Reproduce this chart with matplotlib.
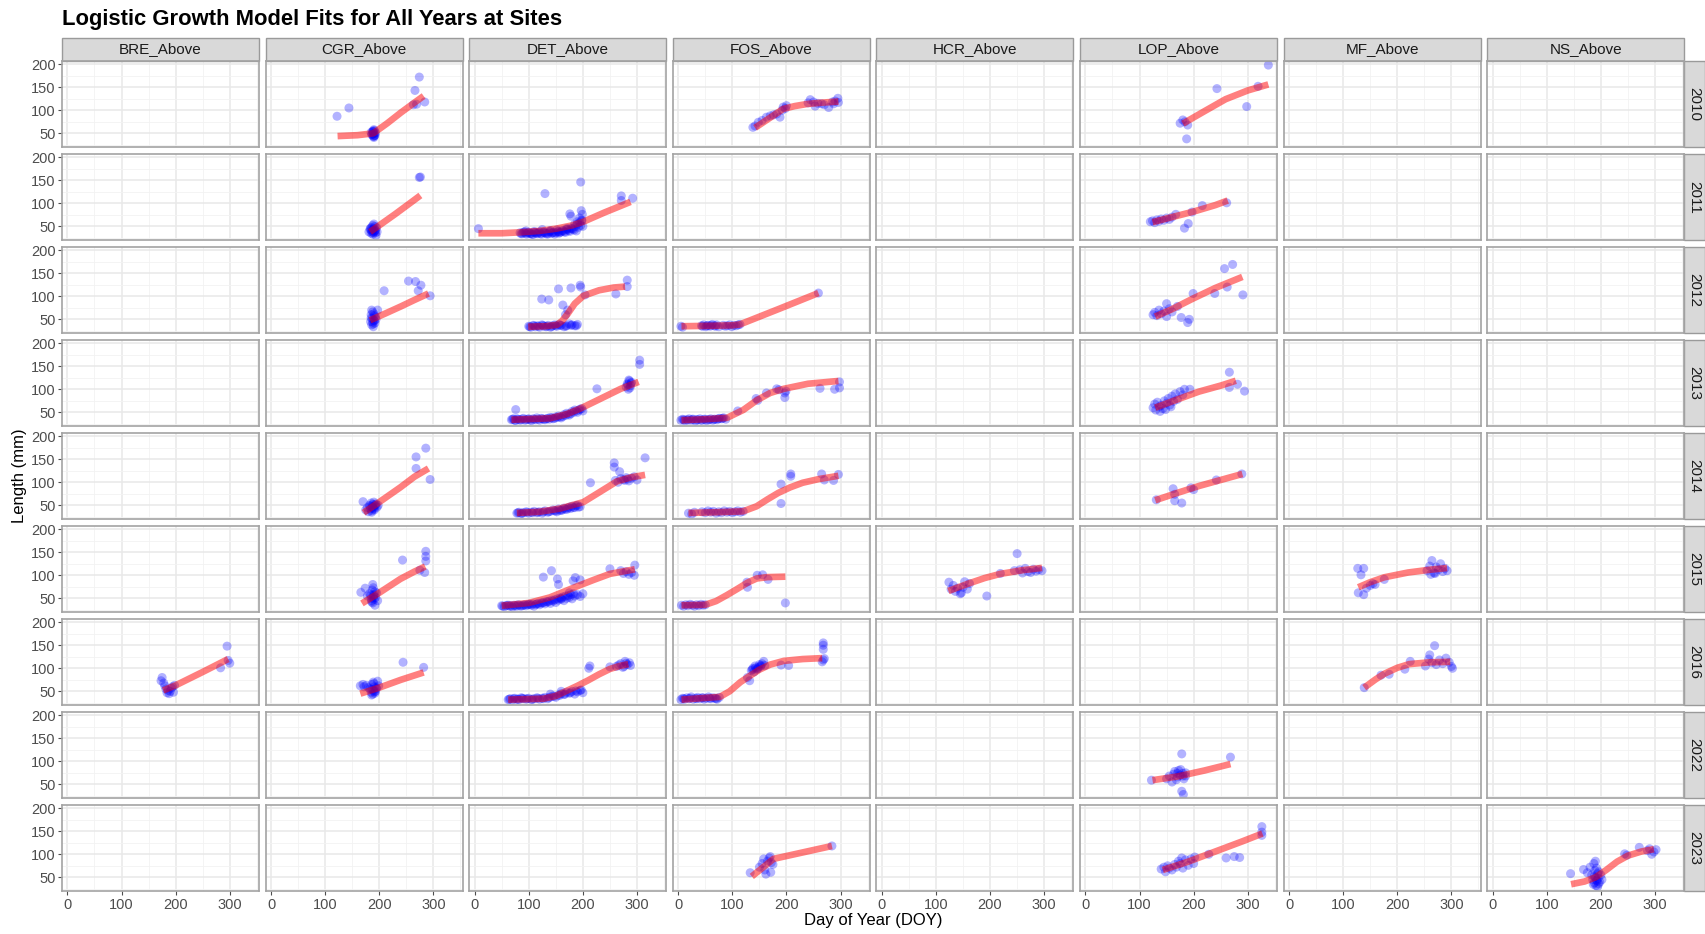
import matplotlib
matplotlib.use('Agg')
import matplotlib.pyplot as plt
from matplotlib.patches import Rectangle

plt.rcParams['font.family'] = ['Liberation Sans', 'DejaVu Sans']

sites = ['BRE_Above', 'CGR_Above', 'DET_Above', 'FOS_Above',
         'HCR_Above', 'LOP_Above', 'MF_Above', 'NS_Above']
years = [2010, 2011, 2012, 2013, 2014, 2015, 2016, 2022, 2023]
x_ticks = [0, 100, 200, 300]
y_ticks = [50, 100, 150, 200]

# --- observed lengths (DOY, mm) and fitted logistic curves ---
bre16_doy = [173, 175, 178, 180, 182, 184, 186, 188, 190, 192, 194, 196, 198, 283, 295, 297, 300]
bre16_len = [73, 80, 68, 62, 55, 47, 52, 45, 50, 57, 60, 48, 63, 101, 148, 117, 111]
bre16_fit_doy = [177, 200, 250, 297]
bre16_fit_len = [52, 63, 92, 120]

cgr10_doy = [122, 144, 185, 187, 188, 189, 190, 191, 192, 190, 188, 191, 189, 193, 186, 190, 189, 191,
             263, 266, 269, 274, 284]
cgr10_len = [87, 105, 52, 48, 55, 44, 58, 50, 46, 41, 53, 56, 49, 51, 47, 43, 54, 45,
             112, 143, 113, 172, 118]
cgr10_fit_doy = [123, 160, 189, 215, 240, 262, 282]
cgr10_fit_len = [44, 46, 50, 72, 95, 114, 131]

cgr11_doy = [181, 183, 185, 186, 187, 188, 189, 190, 191, 192, 193, 194, 195, 196, 188, 190, 185, 192,
             184, 187, 189, 193, 274, 276]
cgr11_len = [38, 44, 35, 48, 41, 52, 36, 45, 39, 50, 42, 30, 47, 38, 33, 55, 42, 40,
             46, 38, 43, 36, 156, 157]
cgr11_fit_doy = [183, 200, 230, 260, 276]
cgr11_fit_len = [38, 52, 77, 103, 117]

cgr12_doy = [184, 185, 186, 187, 188, 189, 190, 191, 192, 193, 186, 188, 190, 194, 197, 189, 185, 191,
             209, 254, 267, 272, 277, 294]
cgr12_len = [45, 60, 38, 52, 66, 34, 48, 58, 42, 55, 70, 44, 62, 50, 70, 40, 53, 47,
             112, 133, 132, 112, 124, 101]
cgr12_fit_doy = [183, 210, 240, 265, 291]
cgr12_fit_len = [48, 62, 78, 92, 106]

cgr14_doy = [170, 175, 178, 180, 182, 184, 185, 186, 187, 188, 189, 190, 191, 192, 194, 196, 198, 186, 190,
             183, 188, 193, 268, 268, 286, 294]
cgr14_len = [58, 40, 45, 36, 50, 42, 55, 38, 47, 52, 44, 57, 40, 49, 53, 46, 50, 35, 42,
             48, 46, 51, 155, 130, 174, 106]
cgr14_fit_doy = [171, 200, 239, 265, 291]
cgr14_fit_len = [34, 57, 89, 112, 130]

cgr15_doy = [166, 174, 178, 182, 185, 186, 187, 188, 189, 190, 191, 192, 193, 195, 197, 188, 190, 186,
             184, 189, 192, 243, 275, 284, 286, 286, 286]
cgr15_len = [63, 72, 55, 60, 50, 45, 68, 40, 73, 58, 48, 35, 52, 62, 45, 80, 55, 42,
             57, 51, 64, 133, 111, 106, 152, 141, 131]
cgr15_fit_doy = [168, 200, 239, 265, 285]
cgr15_fit_len = [39, 62, 92, 108, 119]

cgr16_doy = [165, 170, 172, 176, 180, 183, 185, 186, 188, 189, 190, 191, 192, 193, 195, 197, 199, 186, 190,
             187, 191, 194, 244, 282]
cgr16_len = [62, 65, 60, 63, 58, 55, 48, 65, 44, 70, 52, 60, 46, 50, 56, 72, 62, 42, 67,
             54, 49, 58, 113, 102]
cgr16_fit_doy = [165, 200, 240, 282]
cgr16_fit_len = [45, 58, 75, 91]

det11_doy = [7, 84, 88, 92, 96, 100, 104, 108, 112, 116, 120, 124, 128, 132, 136, 140, 144, 148, 152, 156,
             160, 164, 168, 172, 176, 180, 184, 188, 192, 196, 200, 95, 110, 125, 140, 155, 170, 185, 198,
             86, 90, 94, 98, 102, 106, 110, 114, 118, 122, 126, 130, 134, 138, 142, 146, 150, 154, 158,
             162, 166, 170, 174, 178, 182, 186, 190, 194, 198,
             130, 196, 176, 178, 197, 199, 190, 194, 271, 271, 292]
det11_len = [45, 36, 34, 38, 33, 37, 35, 32, 36, 34, 38, 33, 37, 35, 34, 39, 36, 33, 42, 35,
             38, 40, 37, 44, 39, 45, 42, 40, 48, 52, 50, 40, 39, 43, 41, 38, 45, 55, 62,
             34, 37, 35, 36, 34, 33, 37, 35, 36, 34, 37, 36, 33, 38, 35, 37, 36, 39, 37,
             41, 38, 43, 41, 46, 44, 50, 55, 58, 64,
             121, 146, 77, 72, 84, 76, 60, 68, 116, 106, 111]
det11_fit_doy = [7, 50, 84, 120, 151, 180, 201, 240, 288]
det11_fit_len = [35, 35, 37, 40, 45, 52, 60, 80, 103]

det12_doy = [100, 104, 108, 112, 116, 120, 124, 128, 132, 136, 140, 144, 148, 152, 156, 160, 165, 170, 175, 180,
             185, 190, 102, 110, 118, 126, 134, 142, 150, 158, 168, 178, 188,
             124, 137, 155, 163, 178, 195, 196, 204, 261, 282, 282, 168, 172]
det12_len = [35, 33, 37, 34, 36, 33, 38, 35, 34, 37, 33, 36, 38, 35, 39, 37, 34, 36, 40, 38,
             36, 39, 34, 36, 35, 37, 35, 34, 36, 37, 35, 37, 36,
             94, 92, 116, 81, 118, 124, 120, 103, 105, 135, 121, 60, 70]
det12_fit_doy = [99, 130, 152, 162, 172, 185, 201, 230, 257, 278]
det12_fit_len = [34, 35, 38, 47, 62, 84, 101, 113, 119, 121]

det13_doy = [68, 72, 76, 80, 85, 90, 95, 100, 105, 110, 115, 120, 125, 130, 135, 140, 145, 150, 155, 160,
             165, 170, 175, 180, 185, 190, 195, 200, 70, 74, 78, 83, 88, 93, 98, 103, 108, 113, 118, 123,
             128, 133, 138, 143, 148, 153, 158, 163, 168, 173, 178, 183, 188, 193, 198,
             76, 226, 280, 282, 284, 286, 288, 290, 285, 287, 283, 289, 305, 305]
det13_len = [34, 36, 32, 35, 33, 37, 34, 36, 32, 35, 38, 33, 36, 34, 37, 39, 36, 40, 42, 38,
             45, 48, 44, 52, 55, 50, 57, 53, 35, 33, 36, 34, 35, 33, 35, 34, 36, 34, 35, 37,
             35, 36, 35, 38, 37, 39, 40, 41, 43, 46, 47, 50, 53, 55, 58,
             56, 101, 105, 112, 100, 118, 108, 115, 120, 103, 110, 113, 163, 154]
det13_fit_doy = [68, 139, 170, 195, 230, 270, 303]
det13_fit_len = [34, 37, 46, 58, 78, 101, 116]

det14_doy = [78, 82, 86, 90, 95, 100, 105, 110, 115, 120, 125, 130, 135, 140, 145, 150, 155, 160, 165, 170,
             175, 180, 185, 190, 195, 80, 88, 97, 107, 117, 127, 137, 147, 152, 157, 162, 167, 172, 177,
             182, 187, 192, 214, 258, 258, 268, 260, 265, 270, 275, 280, 285, 290, 295, 300, 277, 283, 315]
det14_len = [33, 35, 32, 34, 36, 33, 35, 37, 34, 36, 33, 38, 35, 37, 40, 38, 42, 39, 44, 41,
             46, 48, 45, 50, 47, 34, 33, 35, 34, 35, 36, 36, 38, 36, 39, 40, 42, 44, 43,
             45, 49, 46, 99, 142, 133, 123, 104, 100, 108, 106, 110, 103, 109, 112, 105, 104, 107, 153]
det14_fit_doy = [78, 120, 158, 201, 230, 263, 290, 315]
det14_fit_len = [33.5, 36, 43, 57, 78, 102, 111, 116]

det15_doy = [50, 55, 60, 65, 70, 75, 80, 85, 90, 95, 100, 105, 110, 115, 120, 125, 130, 135, 140, 145,
             150, 155, 160, 165, 170, 175, 180, 185, 190, 195, 200, 52, 58, 63, 68, 73, 78, 83, 88, 93,
             98, 103, 108, 113, 118, 123, 128, 133, 138, 143, 148, 153, 158, 163, 168, 173, 178, 183,
             127, 142, 153, 155, 182, 186, 195, 250, 270, 275, 280, 285, 290, 295, 296, 160, 175]
det15_len = [34, 32, 35, 33, 31, 34, 36, 33, 35, 34, 37, 35, 33, 38, 36, 40, 38, 42, 39, 44,
             41, 46, 48, 45, 50, 52, 49, 55, 58, 54, 60, 33, 34, 35, 34, 35, 33, 35, 34, 36,
             36, 37, 38, 37, 39, 40, 41, 43, 44, 46, 47, 49, 51, 53, 55, 56, 58, 60,
             96, 110, 92, 80, 88, 95, 90, 114, 110, 104, 108, 102, 106, 100, 122, 50, 62]
det15_fit_doy = [50, 100, 139, 185, 220, 250, 296]
det15_fit_len = [34, 40, 52, 74, 90, 103, 113]

det16_doy = [62, 66, 70, 74, 78, 82, 86, 90, 95, 100, 105, 110, 115, 120, 125, 130, 135, 140, 145, 150,
             155, 160, 165, 170, 175, 180, 185, 190, 195, 200, 64, 72, 80, 88, 97, 107, 117, 127, 137,
             147, 157, 167, 177, 187, 197, 211, 213, 250, 262, 266, 270, 274, 278, 282, 286, 288,
             276, 280, 140, 160]
det16_len = [32, 34, 31, 35, 33, 32, 36, 34, 33, 35, 32, 34, 36, 33, 35, 37, 34, 38, 40, 37,
             42, 45, 43, 48, 46, 50, 44, 49, 52, 47, 33, 34, 33, 35, 34, 33, 35, 34, 36,
             39, 41, 44, 47, 51, 53, 100, 105, 103, 104, 107, 110, 102, 115, 108, 112, 106,
             104, 111, 44, 50]
det16_fit_doy = [62, 127, 150, 170, 190, 210, 230, 250, 268, 284]
det16_fit_len = [32, 34, 40, 51, 62, 74, 87, 98.5, 105, 109]

fos10_doy = [138, 142, 148, 155, 163, 170, 176, 182, 188, 192, 194, 198, 200, 240, 244, 250, 253, 258, 265,
             270, 278, 285, 287, 290, 295, 296]
fos10_len = [63, 66, 74, 78, 85, 88, 90, 92, 85, 100, 107, 104, 110, 116, 123, 118, 109, 115, 114,
             112, 106, 118, 114, 120, 126, 117]
fos10_fit_doy = [142, 170, 194, 215, 238, 265, 296]
fos10_fit_len = [62, 84, 103, 109, 113.6, 116.5, 119]

fos12_doy = [5, 8, 43, 47, 51, 55, 59, 63, 67, 71, 75, 83, 87, 91, 95, 99, 103, 107, 111, 114,
             45, 53, 61, 69, 259]
fos12_len = [35, 33, 36, 38, 34, 37, 35, 39, 36, 38, 34, 37, 35, 36, 38, 34, 37, 36, 38, 39,
             35, 36, 37, 35, 107]
fos12_fit_doy = [6, 60, 100, 114, 187, 259]
fos12_fit_len = [35, 36, 37, 39, 73, 107]

fos13_doy = [5, 8, 12, 16, 20, 24, 28, 32, 36, 40, 44, 48, 52, 56, 60, 64, 68, 72, 76, 80, 84, 88,
             10, 18, 26, 34, 42, 50, 58, 66, 74, 82,
             110, 144, 147, 163, 182, 186, 197, 197, 199, 262, 289, 298, 298]
fos13_len = [33, 35, 32, 34, 36, 33, 35, 31, 34, 36, 33, 35, 32, 34, 36, 33, 35, 34, 37, 36, 38, 35,
             34, 33, 35, 34, 33, 35, 34, 35, 36, 37,
             53, 80, 76, 92, 101, 99, 82, 92, 96, 102, 100, 116, 103]
fos13_fit_doy = [6, 50, 90, 120, 145, 170, 195, 240, 296]
fos13_fit_len = [33, 35, 38, 55, 76, 92, 101, 112, 118]

fos14_doy = [19, 25, 30, 44, 50, 55, 60, 65, 70, 75, 80, 85, 90, 95, 100, 105, 110, 115, 120,
             190, 190, 208, 208, 265, 270, 287, 296]
fos14_len = [33, 31, 35, 36, 34, 38, 35, 37, 33, 36, 34, 38, 35, 37, 34, 36, 38, 35, 37,
             96, 54, 118, 113, 118, 105, 104, 117]
fos14_fit_doy = [19, 70, 120, 145, 165, 185, 207, 230, 260, 296]
fos14_fit_len = [33.5, 35, 37, 48, 63, 77, 89, 99, 107, 114]

fos15_doy = [6, 10, 14, 18, 22, 26, 30, 34, 38, 42, 46, 50, 127, 128, 146, 156, 166, 198]
fos15_len = [35, 33, 36, 34, 37, 35, 33, 36, 34, 37, 35, 36, 85, 74, 100, 101, 91, 40]
fos15_fit_doy = [6, 50, 70, 90, 110, 128, 145, 165, 198]
fos15_fit_len = [35, 36, 44, 57, 71, 84, 93, 96, 97]

fos16_doy = [5, 8, 12, 16, 20, 24, 28, 32, 36, 40, 44, 48, 52, 56, 60, 64, 68, 72, 76,
             10, 22, 34, 46, 58, 70,
             128, 132, 135, 138, 140, 142, 145, 148, 150, 152, 155, 158, 160, 137, 143, 147, 153,
             190, 204, 266, 268, 268, 268, 268, 270]
fos16_len = [32, 35, 33, 36, 34, 38, 33, 35, 37, 34, 36, 33, 35, 38, 34, 36, 35, 33, 37,
             34, 35, 34, 36, 35, 34,
             80, 73, 95, 100, 92, 105, 98, 102, 108, 104, 110, 115, 106, 97, 101, 99, 106,
             107, 106, 114, 118, 141, 150, 155, 121]
fos16_fit_doy = [6, 77, 95, 115, 133, 150, 170, 195, 230, 266]
fos16_fit_len = [32, 38, 50, 70, 84, 97, 108, 116, 120, 122]

fos23_doy = [133, 150, 155, 158, 160, 162, 165, 168, 170, 171, 172, 175, 284]
fos23_len = [60, 72, 80, 90, 66, 57, 85, 92, 95, 61, 82, 78, 118]
fos23_fit_doy = [136, 155, 176, 230, 284]
fos23_fit_len = [52, 70, 90, 104, 118]

hcr15_doy = [124, 128, 132, 136, 140, 145, 147, 150, 153, 158, 162, 194, 219, 245, 250, 255, 260, 265,
             270, 275, 280, 285, 290, 296]
hcr15_len = [85, 70, 78, 65, 72, 60, 62, 74, 86, 70, 82, 55, 104, 110, 147, 112, 105, 115,
             108, 106, 113, 109, 112, 110]
hcr15_fit_doy = [123, 160, 190, 219, 260, 296]
hcr15_fit_len = [66, 82, 94, 103, 111, 116]

lop10_doy = [175, 180, 184, 187, 189, 243, 298, 319, 338]
lop10_len = [72, 79, 75, 38, 68, 147, 108, 152, 198]
lop10_fit_doy = [180, 220, 259, 300, 338]
lop10_fit_len = [71, 98, 124, 143, 156]

lop11_doy = [120, 124, 128, 132, 136, 140, 145, 150, 155, 160, 167, 183, 190, 197, 216, 261]
lop11_len = [60, 62, 58, 64, 61, 66, 63, 68, 65, 70, 76, 46, 56, 81, 95, 101]
lop11_fit_doy = [124, 160, 200, 240, 263]
lop11_fit_len = [59, 70, 82, 96, 106]

lop12_doy = [125, 128, 132, 136, 140, 145, 150, 155, 160, 150, 170, 177, 189, 192, 199, 239, 257, 262, 272, 291]
lop12_len = [60, 65, 58, 70, 62, 68, 84, 73, 66, 56, 78, 54, 43, 50, 106, 106, 160, 120, 169, 103]
lop12_fit_doy = [129, 160, 197, 240, 290]
lop12_fit_len = [56, 72, 94, 118, 142]

lop13_doy = [125, 128, 130, 133, 136, 140, 143, 146, 150, 153, 156, 160, 163, 166, 170, 175, 180, 183, 193,
             266, 266, 281, 294, 138, 148, 158]
lop13_len = [60, 68, 55, 72, 62, 65, 58, 75, 70, 80, 66, 85, 74, 90, 78, 95, 88, 100, 100,
             137, 104, 111, 96, 52, 56, 62]
lop13_fit_doy = [129, 170, 210, 250, 278]
lop13_fit_len = [60, 78, 95, 108, 118.5]

lop14_doy = [131, 162, 165, 165, 178, 195, 200, 242, 289]
lop14_len = [62, 86, 74, 60, 55, 88, 84, 105, 118]
lop14_fit_doy = [129, 170, 210, 250, 290]
lop14_fit_len = [61, 77, 92, 105, 118]

lop22_doy = [122, 150, 155, 160, 163, 165, 168, 170, 172, 175, 178, 180, 182, 185, 178, 181, 185, 268,
             170, 176, 180]
lop22_len = [59, 62, 68, 55, 72, 78, 60, 66, 80, 70, 116, 74, 62, 68, 35, 28, 75, 109,
             74, 82, 68]
lop22_fit_doy = [124, 170, 220, 268]
lop22_fit_len = [59, 67, 80, 94]

lop23_doy = [140, 145, 148, 152, 155, 160, 165, 168, 172, 175, 178, 180, 185, 190, 195, 200, 202,
             228, 260, 275, 285, 326, 326, 326]
lop23_len = [68, 72, 62, 75, 70, 66, 78, 72, 85, 80, 92, 70, 88, 76, 90, 80, 94,
             100, 92, 95, 93, 160, 141, 148]
lop23_fit_doy = [143, 190, 240, 290, 327]
lop23_fit_len = [66, 84, 106, 128, 145]

mf15_doy = [127, 138, 133, 128, 138, 143, 150, 155, 159, 176, 255, 260, 264, 268, 272, 276, 280, 284,
            288, 292, 262, 270]
mf15_len = [115, 115, 101, 62, 58, 72, 78, 82, 80, 91, 110, 120, 132, 105, 118, 112, 125, 108,
            115, 110, 102, 104]
mf15_fit_doy = [128, 150, 176, 220, 260, 292]
mf15_fit_len = [74, 85, 95.6, 106, 112, 115.7]

mf16_doy = [139, 170, 185, 214, 224, 252, 258, 260, 264, 269, 272, 278, 284, 290, 296, 300, 302]
mf16_len = [58, 85, 87, 98, 115, 105, 120, 129, 112, 149, 108, 118, 110, 122, 113, 104, 100]
mf16_fit_doy = [139, 160, 176, 200, 222, 260, 298]
mf16_fit_len = [58, 76, 88, 101, 109, 113, 114]

ns23_doy = [144, 168, 175, 180, 183, 185, 187, 188, 189, 190, 191, 192, 193, 194, 195, 196, 198, 200, 202,
            186, 190, 194, 188, 192, 196, 244, 248, 271, 286, 290, 294, 298, 302]
ns23_len = [58, 67, 60, 72, 55, 45, 80, 38, 65, 50, 32, 70, 42, 58, 48, 62, 40, 55, 45,
            35, 85, 30, 52, 44, 36, 101, 98, 115, 108, 112, 100, 105, 110]
ns23_fit_doy = [145, 170, 190, 210, 230, 250, 275, 298]
ns23_fit_len = [35, 41, 50, 66, 84, 97, 106, 111]

panels = {
    ('BRE_Above', 2016): (bre16_doy, bre16_len, bre16_fit_doy, bre16_fit_len),
    ('CGR_Above', 2010): (cgr10_doy, cgr10_len, cgr10_fit_doy, cgr10_fit_len),
    ('CGR_Above', 2011): (cgr11_doy, cgr11_len, cgr11_fit_doy, cgr11_fit_len),
    ('CGR_Above', 2012): (cgr12_doy, cgr12_len, cgr12_fit_doy, cgr12_fit_len),
    ('CGR_Above', 2014): (cgr14_doy, cgr14_len, cgr14_fit_doy, cgr14_fit_len),
    ('CGR_Above', 2015): (cgr15_doy, cgr15_len, cgr15_fit_doy, cgr15_fit_len),
    ('CGR_Above', 2016): (cgr16_doy, cgr16_len, cgr16_fit_doy, cgr16_fit_len),
    ('DET_Above', 2011): (det11_doy, det11_len, det11_fit_doy, det11_fit_len),
    ('DET_Above', 2012): (det12_doy, det12_len, det12_fit_doy, det12_fit_len),
    ('DET_Above', 2013): (det13_doy, det13_len, det13_fit_doy, det13_fit_len),
    ('DET_Above', 2014): (det14_doy, det14_len, det14_fit_doy, det14_fit_len),
    ('DET_Above', 2015): (det15_doy, det15_len, det15_fit_doy, det15_fit_len),
    ('DET_Above', 2016): (det16_doy, det16_len, det16_fit_doy, det16_fit_len),
    ('FOS_Above', 2010): (fos10_doy, fos10_len, fos10_fit_doy, fos10_fit_len),
    ('FOS_Above', 2012): (fos12_doy, fos12_len, fos12_fit_doy, fos12_fit_len),
    ('FOS_Above', 2013): (fos13_doy, fos13_len, fos13_fit_doy, fos13_fit_len),
    ('FOS_Above', 2014): (fos14_doy, fos14_len, fos14_fit_doy, fos14_fit_len),
    ('FOS_Above', 2015): (fos15_doy, fos15_len, fos15_fit_doy, fos15_fit_len),
    ('FOS_Above', 2016): (fos16_doy, fos16_len, fos16_fit_doy, fos16_fit_len),
    ('FOS_Above', 2023): (fos23_doy, fos23_len, fos23_fit_doy, fos23_fit_len),
    ('HCR_Above', 2015): (hcr15_doy, hcr15_len, hcr15_fit_doy, hcr15_fit_len),
    ('LOP_Above', 2010): (lop10_doy, lop10_len, lop10_fit_doy, lop10_fit_len),
    ('LOP_Above', 2011): (lop11_doy, lop11_len, lop11_fit_doy, lop11_fit_len),
    ('LOP_Above', 2012): (lop12_doy, lop12_len, lop12_fit_doy, lop12_fit_len),
    ('LOP_Above', 2013): (lop13_doy, lop13_len, lop13_fit_doy, lop13_fit_len),
    ('LOP_Above', 2014): (lop14_doy, lop14_len, lop14_fit_doy, lop14_fit_len),
    ('LOP_Above', 2022): (lop22_doy, lop22_len, lop22_fit_doy, lop22_fit_len),
    ('LOP_Above', 2023): (lop23_doy, lop23_len, lop23_fit_doy, lop23_fit_len),
    ('MF_Above', 2015): (mf15_doy, mf15_len, mf15_fit_doy, mf15_fit_len),
    ('MF_Above', 2016): (mf16_doy, mf16_len, mf16_fit_doy, mf16_fit_len),
    ('NS_Above', 2023): (ns23_doy, ns23_len, ns23_fit_doy, ns23_fit_len),
}

W, H = 1705, 934
fig = plt.figure(figsize=(W / 100, H / 100), dpi=100)

# facet grid geometry in pixels
pan_w, pan_h = 197, 86.7
col_step, row_step = 203.6, 93.0
x0, y0 = 62, 60.7
strip_h, strip_w = 23, 21

for r, yr in enumerate(years):
    for c, site in enumerate(sites):
        left = x0 + c * col_step
        top = y0 + r * row_step
        ax = fig.add_axes([left / W, 1 - (top + pan_h) / H, pan_w / W, pan_h / H])
        ax.set_xlim(-10, 354)
        ax.set_ylim(19.5, 207.5)

        ax.set_xticks(x_ticks)
        ax.set_xticks([50, 150, 250, 350], minor=True)
        ax.set_yticks(y_ticks)
        ax.set_yticks([25, 75, 125, 175], minor=True)
        ax.grid(which='major', color='#E8E8E8', lw=1.1)
        ax.grid(which='minor', color='#F2F2F2', lw=0.6)
        ax.set_axisbelow(True)

        ax.tick_params(which='minor', length=0)
        ax.tick_params(which='major', length=3, width=0.8, color='#4D4D4D',
                       labelcolor='#4D4D4D', labelsize=10.5, pad=1.5)
        if c != 0:
            ax.tick_params(axis='y', length=0, labelleft=False)
        if r != len(years) - 1:
            ax.tick_params(axis='x', length=0, labelbottom=False)
        for sp in ax.spines.values():
            sp.set_color('#A3A3A3')
            sp.set_linewidth(1.2)

        if (site, yr) in panels:
            doy, length, fit_doy, fit_len = panels[(site, yr)]
            ax.scatter(doy, length, s=42, color='blue', alpha=0.3, edgecolors='none', zorder=2)
            ax.plot(fit_doy, fit_len, color='red', alpha=0.5, lw=4.8,
                    solid_capstyle='butt', solid_joinstyle='round', zorder=3)

        # facet strips
        if r == 0:
            hh = strip_h / pan_h
            ax.add_patch(Rectangle((0, 1), 1, hh, transform=ax.transAxes, clip_on=False,
                                   facecolor='#D9D9D9', edgecolor='#9A9A9A', lw=1.0))
            ax.text(0.5, 1 + hh / 2, site, transform=ax.transAxes, ha='center', va='center',
                    fontsize=11, color='#1A1A1A')
        if c == len(sites) - 1:
            ww = strip_w / pan_w
            ax.add_patch(Rectangle((1, 0), ww, 1, transform=ax.transAxes, clip_on=False,
                                   facecolor='#D9D9D9', edgecolor='#9A9A9A', lw=1.0))
            ax.text(1 + ww / 2, 0.5, str(yr), transform=ax.transAxes, ha='center', va='center',
                    rotation=270, fontsize=11, color='#1A1A1A')

fig.text(62 / W, 1 - 19 / H, 'Logistic Growth Model Fits for All Years at Sites',
         ha='left', va='center', fontsize=15.8, fontweight='bold')
fig.text(20 / W, 1 - 476 / H, 'Length (mm)', rotation=90, ha='center', va='center', fontsize=12)
fig.text(873 / W, 1 - 921 / H, 'Day of Year (DOY)', ha='center', va='center', fontsize=12)

fig.savefig('out.png', dpi=100)
